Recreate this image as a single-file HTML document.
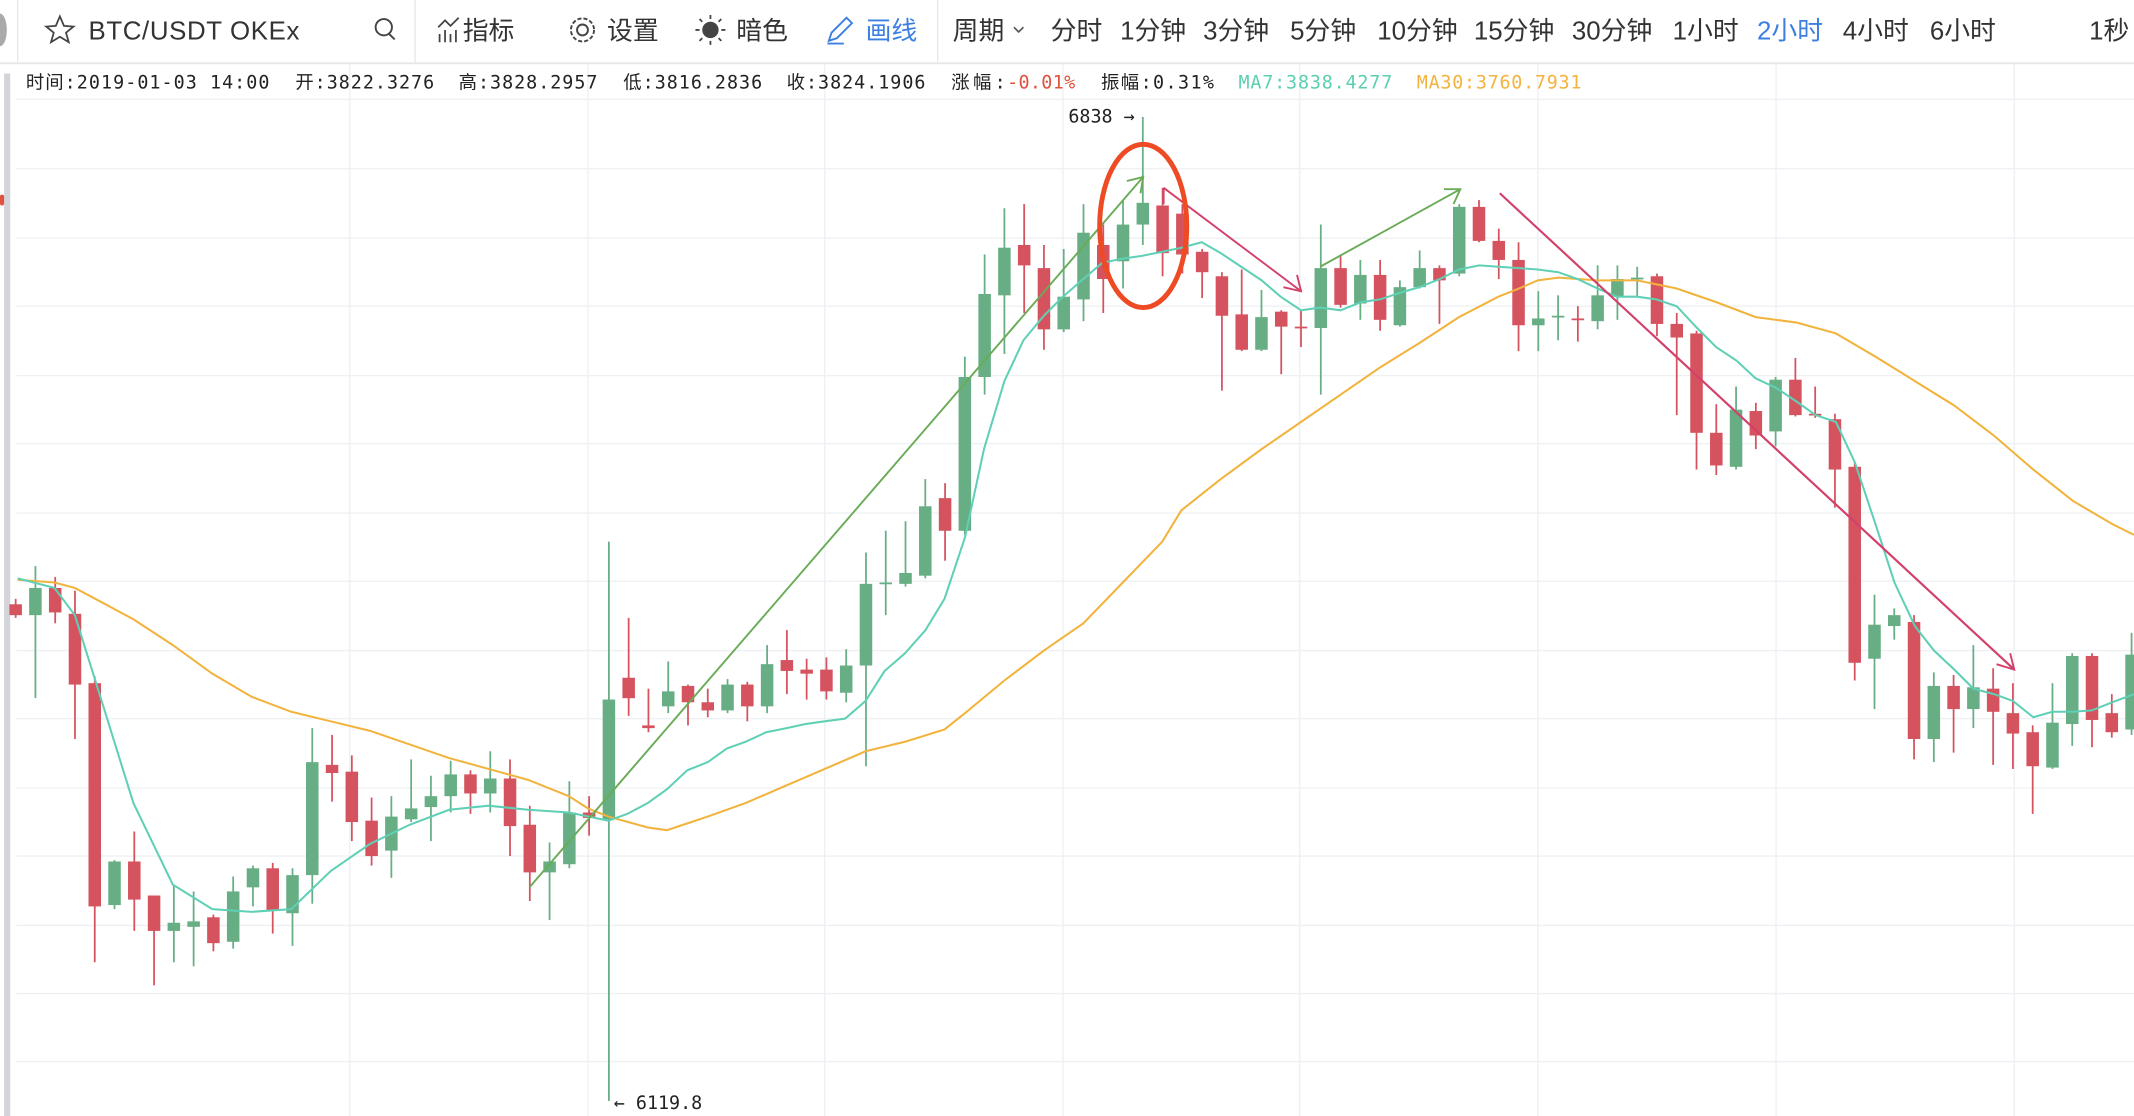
<!DOCTYPE html>
<html><head><meta charset="utf-8">
<style>
html,body{margin:0;padding:0;background:#fff;overflow:hidden}
svg{display:block}
.tb{font-family:"Liberation Sans","Noto Sans CJK SC",sans-serif;font-size:19px;fill:#333}
.mono{font-family:"DejaVu Sans Mono","Liberation Mono","Noto Sans CJK SC",monospace;font-size:13.5px;fill:#222}
</style></head>
<body>
<svg id="s" width="2134" height="1116" viewBox="0 0 1568 820" preserveAspectRatio="none" xmlns="http://www.w3.org/2000/svg">
<rect width="1568" height="820" fill="#fff"/>
<g id="grid" stroke="#eef0f4" stroke-width="1"></g>
<!-- toolbar -->
<line x1="0" y1="46.5" x2="1568" y2="46.5" stroke="#e6e8eb" stroke-width="1.5"/>
<line x1="13" y1="0" x2="13" y2="46" stroke="#e6e8eb"/>
<line x1="305" y1="0" x2="305" y2="46" stroke="#e6e8eb"/>
<line x1="689" y1="0" x2="689" y2="46" stroke="#e6e8eb"/>
<ellipse cx="0" cy="22" rx="5" ry="12" fill="#aaa"/>
<path d="M44 12 l3 7 7 .5 -5.5 4.5 2 7 -6.5-4 -6.5 4 2-7 -5.5-4.5 7-.5z" fill="none" stroke="#444" stroke-width="1.3"/>
<text class="tb" x="65" y="29" textLength="155">BTC/USDT OKEx</text>
<circle cx="282" cy="20" r="6" fill="none" stroke="#444" stroke-width="1.4"/><line x1="286" y1="25" x2="290" y2="29" stroke="#444" stroke-width="1.4"/>
<path d="M323 31v-6M327 31v-9M331 31v-6M335 31v-9M322 20l5-5 4 4 6-6" stroke="#444" stroke-width="1.3" fill="none"/>
<text class="tb" x="340" y="29">指标</text>
<circle cx="428" cy="22" r="4" fill="none" stroke="#444" stroke-width="1.4"/><circle cx="428" cy="22" r="8.5" fill="none" stroke="#444" stroke-width="1.4" stroke-dasharray="3 1.5"/>
<text class="tb" x="446" y="29">设置</text>
<circle cx="522" cy="22" r="6" fill="#444"/><path d="M522 11v3M522 30v3M511 22h3M530 22h3M514 14l2 2M528 28l2 2M514 30l2-2M528 16l2-2" stroke="#444" stroke-width="1.3"/>
<text class="tb" x="541" y="29">暗色</text>
<path d="M609 30l2-6 11-11 4 4-11 11z M608 32h12" stroke="#3d7fe0" stroke-width="1.4" fill="none"/>
<text class="tb" x="636" y="29" style="fill:#3d7fe0">画线</text>
<text class="tb" x="700" y="29">周期</text>
<path d="M745 20l3.5 3.5 3.5-3.5" stroke="#555" fill="none" stroke-width="1.2"/>
<text class="tb" x="772" y="29">分时</text>
<text class="tb" x="823" y="29">1分钟</text>
<text class="tb" x="884" y="29">3分钟</text>
<text class="tb" x="948" y="29">5分钟</text>
<text class="tb" x="1012" y="29">10分钟</text>
<text class="tb" x="1083" y="29">15分钟</text>
<text class="tb" x="1155" y="29">30分钟</text>
<text class="tb" x="1229" y="29">1小时</text>
<text class="tb" x="1291" y="29" style="fill:#3d7fe0">2小时</text>
<text class="tb" x="1354" y="29">4小时</text>
<text class="tb" x="1418" y="29">6小时</text>
<text class="tb" x="1535" y="29">1秒</text>
<!-- info line -->
<text class="mono" x="19" y="65" textLength="179">时间:2019-01-03 14:00</text>
<text class="mono" x="217" y="65" textLength="102">开:3822.3276</text>
<text class="mono" x="337" y="65" textLength="102">高:3828.2957</text>
<text class="mono" x="458" y="65" textLength="102">低:3816.2836</text>
<text class="mono" x="578" y="65" textLength="102">收:3824.1906</text>
<text class="mono" x="699" y="65" textLength="40">涨幅:</text>
<text class="mono" x="740" y="65" textLength="50" style="fill:#e0513e">-0.01%</text>
<text class="mono" x="809" y="65" textLength="83">振幅:0.31%</text>
<text class="mono" x="910" y="65" textLength="113" style="fill:#5ccfb1">MA7:3838.4277</text>
<text class="mono" x="1041" y="65" textLength="121" style="fill:#f3b33e">MA30:3760.7931</text>
<rect x="3" y="54" width="4.5" height="766" fill="#d4d5d9"/>
<rect x="0" y="143" width="3" height="8" rx="1.5" fill="#e0513e"/>
<g id="candles"></g>
<polyline id="ma30" fill="none" stroke="#f2b33d" stroke-width="1.5"/>
<polyline id="ma7" fill="none" stroke="#5fd0b5" stroke-width="1.5"/>
<!-- drawings -->
<g fill="none" stroke-width="1.4">
<line x1="389" y1="652" x2="840" y2="130" stroke="#6aab57"/>
<path d="M828 133l12-3-2 12" stroke="#6aab57"/>
<line x1="970" y1="196" x2="1073" y2="139" stroke="#6aab57"/>
<path d="M1061 139l12 0-5 11" stroke="#6aab57"/>
<line x1="855" y1="138" x2="956" y2="214" stroke="#d3416a"/>
<path d="M943 211l13 3-3-12" stroke="#d3416a"/>
<line x1="1102" y1="142" x2="1480" y2="492" stroke="#d3416a" stroke-width="1.6"/>
<path d="M1467 488l13 4-3-12" stroke="#d3416a"/>
<line x1="855" y1="138" x2="855" y2="150" stroke="#d3416a"/>
</g>
<ellipse cx="840" cy="166" rx="32" ry="60" fill="none" stroke="#ee4a23" stroke-width="3.6"/>
<text class="mono" x="785" y="90" style="font-size:13.5px">6838 →</text>
<text class="mono" x="451" y="815" style="font-size:13.5px">← 6119.8</text>
</svg>
<script>
var NS="http://www.w3.org/2000/svg",s=document.getElementById('grid');
function el(p,t,a){var e=document.createElementNS(NS,t);for(var k in a)e.setAttribute(k,a[k]);p.appendChild(e);return e;}
[73,124,175,225,276,326,377,427,478,528,579,629,680,730,780].forEach(function(y){el(s,'line',{x1:12,y1:y,x2:1568,y2:y});});
[257,432,606,781,955,1130,1305,1480].forEach(function(x){el(s,'line',{x1:x,y1:47,x2:x,y2:820});});
var G='#67ae85',R='#d5535f';
// i, color(1=green), bodyTop, bodyBot, wickTop, wickBot
var d=[
[0,0,444,452,440,454],[1,1,432,452,416,513],[2,0,432,450,424,458],[3,0,451,503,434,543],[4,0,502,666,497,707],
[5,1,633,665,632,668],[6,0,633,661,611,684],[7,0,658,684,658,724],[8,1,678,684,651,707],[9,1,677,681,655,710],
[10,0,674,693,672,699],[11,1,655,692,644,697],[12,1,638,652,636,666],[13,0,638,669,634,686],[14,1,643,671,638,695],
[15,1,560,643,535,664],[16,0,562,568,540,589],[17,0,567,604,555,618],[18,0,603,629,586,636],[19,1,600,625,585,645],
[20,1,594,602,558,604],[21,1,585,593,570,618],[22,1,569,585,559,597],[23,0,569,583,566,598],[24,1,572,583,552,597],
[25,0,572,607,558,629],[26,0,606,641,592,662],[27,1,633,641,619,676],[28,1,597,635,574,638],[29,0,597,601,585,614],
[30,1,514,602,398,809],[31,0,498,513,454,526],[32,0,533,535,506,538],[33,1,508,519,486,524],[34,0,504,516,503,533],
[35,0,516,522,506,527],[36,1,503,522,499,524],[37,0,503,519,501,530],[38,1,488,519,474,524],[39,0,485,493,463,510],
[40,0,492,495,484,514],[41,0,492,508,483,514],[42,1,489,509,477,516],[43,1,429,489,406,563],[44,1,428,429,390,452],
[45,1,421,429,383,431],[46,1,372,423,352,425],[47,0,366,390,355,412],[48,1,277,390,262,393],[49,1,216,277,187,290],
[50,1,182,217,153,260],[51,0,180,195,150,230],[52,0,197,242,180,257],[53,1,218,242,183,244],[54,1,171,220,150,236],
[55,0,180,205,165,230],[56,1,165,192,147,212],[57,1,149,165,86,180],[58,0,151,186,138,203],[59,0,157,187,150,201],
[60,0,185,200,183,219],[61,0,203,232,200,287],[62,0,231,257,198,258],[63,1,233,257,213,258],[64,0,229,240,228,275],
[65,0,240,241,228,255],[66,1,197,241,165,290],[67,0,197,224,187,226],[68,1,202,223,191,235],[69,0,202,235,191,243],
[70,1,211,239,206,240],[71,1,197,211,184,212],[72,0,197,206,195,238],[73,1,152,201,150,203],[74,0,152,177,147,178],
[75,0,177,191,168,205],[76,0,191,239,178,258],[77,1,234,239,214,258],[78,1,232,233,217,250],[79,0,234,235,225,251],
[80,1,217,236,195,242],[81,1,205,218,195,235],[82,1,204,205,196,218],[83,0,203,238,201,247],[84,0,238,248,230,305],
[85,0,245,318,243,345],[86,0,318,342,297,349],[87,1,301,343,284,345],[88,0,302,320,296,330],[89,1,279,317,277,328],
[90,0,279,305,263,306],[91,0,304,305,284,307],[92,0,308,345,304,373],[93,0,343,487,340,500],[94,1,459,484,437,521],
[95,1,452,460,447,470],[96,0,457,543,452,558],[97,1,504,543,494,560],[98,0,504,521,496,553],[99,1,505,521,474,535],
[100,0,506,523,491,562],[101,0,524,539,502,565],[102,0,538,563,533,598],[103,1,531,564,502,565],[104,1,482,532,480,548],
[105,0,482,529,480,549],[106,0,524,538,510,542],[107,1,481,536,465,540]];
var c=document.getElementById('candles');
d.forEach(function(a){var x=11.5+14.53*a[0],col=a[1]?G:R;
el(c,'line',{x1:x,y1:a[4],x2:x,y2:a[5],stroke:col,'stroke-width':1.3});
el(c,'rect',{x:x-4.6,y:a[2],width:9.2,height:Math.max(1.3,a[3]-a[2]),fill:col});});
document.getElementById('ma7').setAttribute('points',"13,425 40,432 55,452 70,500 98,590 127,650 156,668 185,670 214,668 243,640 272,620 301,606 330,595 359,592 388,595 418,597 447,603 461,598 476,590 490,580 505,566 520,560 534,550 548,545 563,538 578,535 592,532 606,530 621,528 636,515 650,493 665,480 680,463 694,440 709,395 723,330 738,280 752,250 767,232 781,218 796,205 810,193 825,190 839,188 854,185 868,182 883,178 897,186 912,196 927,206 941,218 956,228 970,226 985,228 1000,222 1014,220 1029,215 1043,211 1058,205 1072,198 1087,195 1101,196 1116,197 1130,198 1145,200 1159,205 1174,212 1188,218 1203,218 1217,220 1232,225 1246,240 1261,255 1276,265 1290,278 1305,285 1320,295 1334,305 1349,310 1363,340 1378,385 1392,428 1407,460 1421,478 1436,492 1450,506 1465,510 1479,515 1494,527 1508,523 1523,523 1537,522 1552,516 1568,510");
document.getElementById('ma30').setAttribute('points',"13,426 40,428 55,432 70,440 98,455 127,474 156,495 185,512 214,523 243,530 272,537 301,547 330,557 359,565 388,573 418,585 432,594 447,600 476,608 490,610 505,605 520,600 548,590 578,577 606,565 636,552 665,545 694,536 709,524 738,500 767,478 796,458 825,428 854,398 868,375 897,352 927,330 956,310 985,290 1014,270 1043,252 1072,233 1101,218 1116,212 1130,206 1145,204 1174,206 1203,206 1232,212 1261,222 1290,233 1320,237 1349,245 1378,262 1407,280 1436,298 1465,320 1494,345 1523,368 1552,385 1568,393");
</script>
</body></html>
